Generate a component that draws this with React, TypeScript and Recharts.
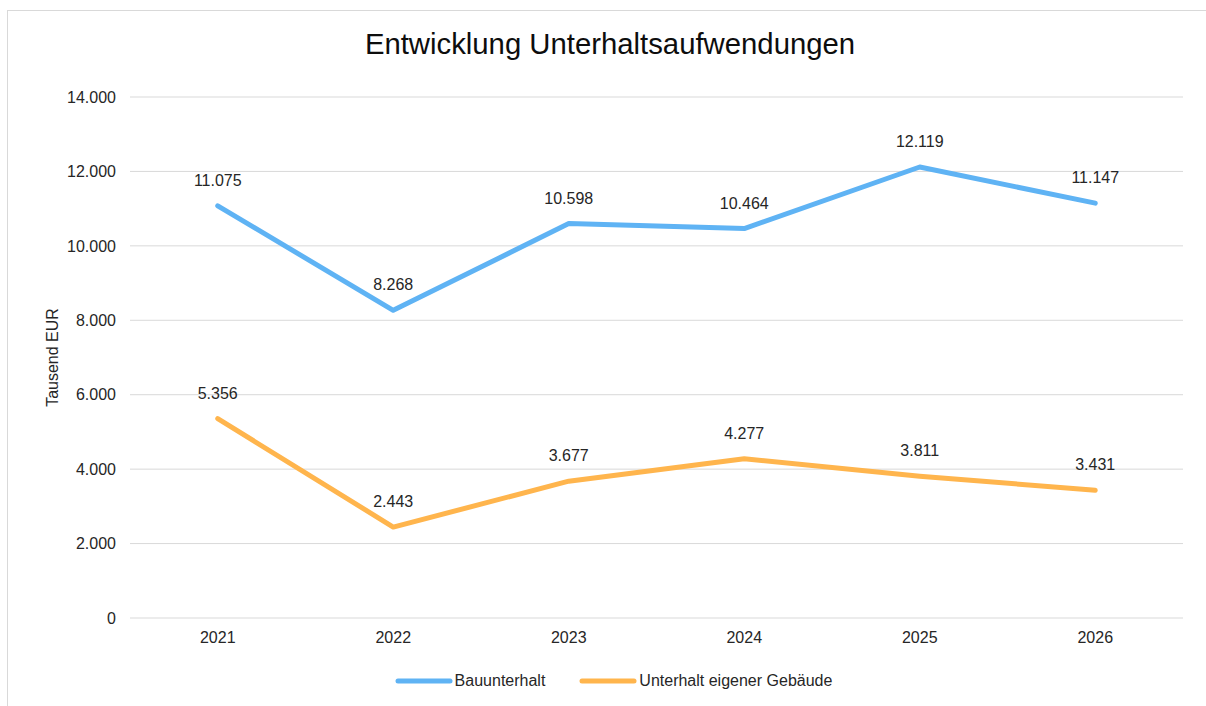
import React from "react";
import { LineChart, Line, XAxis, YAxis, CartesianGrid, Legend, LabelList } from "recharts";

const years = ["2021", "2022", "2023", "2024", "2025", "2026"];
const bauunterhalt = [11075, 8268, 10598, 10464, 12119, 11147];
const unterhaltGebaeude = [5356, 2443, 3677, 4277, 3811, 3431];
const yTicks = [0, 2000, 4000, 6000, 8000, 10000, 12000, 14000];
const seriesNames = ["Bauunterhalt", "Unterhalt eigener Gebäude"];
const seriesColors = ["#5fb3f4", "#ffb54d"];

const data = years.map((y, i) => ({ year: y, bau: bauunterhalt[i], geb: unterhaltGebaeude[i] }));

const fmt = (v: any) => String(v).replace(/\B(?=(\d{3})+(?!\d))/g, ".");

const FONT = "'Liberation Sans', Arial, sans-serif";
const FS = 16;

const LegendContent = () => (
  <div style={{ display: "flex", justifyContent: "center", alignItems: "center", fontFamily: FONT, fontSize: FS, color: "#262626", paddingLeft: 14 }}>
    {seriesNames.map((n, i) => (
      <div key={n} style={{ display: "flex", alignItems: "center", marginRight: i === 0 ? 34 : 0 }}>
        <svg width={58} height={10} style={{ marginRight: 2 }}>
          <line x1={3} y1={5} x2={55} y2={5} stroke={seriesColors[i]} strokeWidth={5} strokeLinecap="round" />
        </svg>
        <span>{n}</span>
      </div>
    ))}
  </div>
);

const YLabel = (props: any) => {
  const vb = props.viewBox || {};
  const cx = 52;
  const cy = vb.y + vb.height / 2;
  return (
    <text x={cx} y={cy} transform={`rotate(-90 ${cx} ${cy})`} textAnchor="middle" dominantBaseline="central" fontFamily={FONT} fontSize={FS} fill="#262626">
      Tausend EUR
    </text>
  );
};

export default function App() {
  return (
    <div style={{ position: "fixed", left: 0, top: 0, width: 1206, height: 706, overflow: "hidden", background: "#fff" }}>
      <div style={{ position: "absolute", left: 7, top: 10, width: 1300, height: 800, border: "1px solid #d9d9d9", boxSizing: "border-box" }} />
      <div style={{ position: "absolute", left: 7, top: 27, width: 1206, textAlign: "center", fontFamily: FONT, fontSize: 29.3, color: "#0d0d0d", whiteSpace: "nowrap" }}>
        Entwicklung Unterhaltsaufwendungen
      </div>
      <div style={{ position: "absolute", left: 0, top: 0 }}>
        <LineChart width={1206} height={706} data={data} margin={{ top: 97, right: 23, left: 30, bottom: 40 }}>
          <CartesianGrid vertical={false} stroke="#d9d9d9" strokeWidth={1} />
          <XAxis dataKey="year" axisLine={false} tickLine={false} tickMargin={8} padding={{ left: 87.75, right: 87.75 }} tick={{ fontFamily: FONT, fontSize: FS, fill: "#262626" }} />
          <YAxis
            width={100}
            domain={[0, 14000]}
            ticks={yTicks}
            interval={0}
            axisLine={false}
            tickLine={false}
            tickMargin={8}
            tickFormatter={fmt}
            tick={{ fontFamily: FONT, fontSize: FS, fill: "#262626" }}
            label={<YLabel />}
          />
          <Legend verticalAlign="bottom" content={<LegendContent />} wrapperStyle={{ bottom: 16 }} />
          <Line type="linear" dataKey="bau" name={seriesNames[0]} stroke={seriesColors[0]} strokeWidth={5} dot={false} activeDot={false} strokeLinejoin="round" strokeLinecap="round" isAnimationActive={false}>
            <LabelList dataKey="bau" position="top" offset={20} formatter={fmt} style={{ fontFamily: FONT, fontSize: FS, fill: "#262626" }} />
          </Line>
          <Line type="linear" dataKey="geb" name={seriesNames[1]} stroke={seriesColors[1]} strokeWidth={5} dot={false} activeDot={false} strokeLinejoin="round" strokeLinecap="round" isAnimationActive={false}>
            <LabelList dataKey="geb" position="top" offset={20} formatter={fmt} style={{ fontFamily: FONT, fontSize: FS, fill: "#262626" }} />
          </Line>
        </LineChart>
      </div>
    </div>
  );
}
